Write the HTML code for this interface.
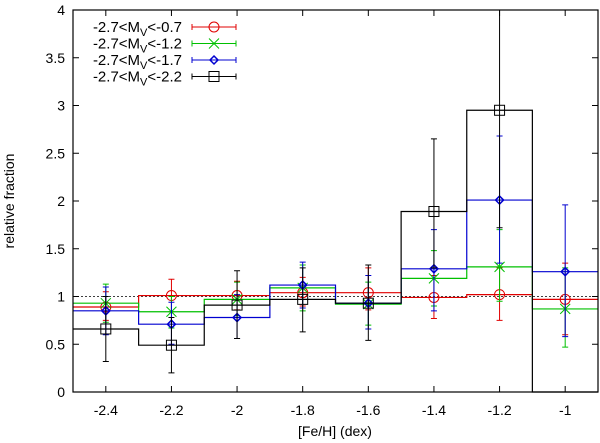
<!DOCTYPE html>
<html><head><meta charset="utf-8"><style>
body{margin:0;background:#fff}
svg{display:block;font-family:"Liberation Sans",sans-serif}
</style></head><body>
<svg id="c" width="600" height="443"></svg>
<script>
const xs=[-2.4,-2.2,-2.0,-1.8,-1.6,-1.4,-1.2,-1.0];
const redV=[0.89,1.01,1.01,1.04,1.04,0.99,1.02,0.97];
const redLo=[0.75,0.84,0.86,0.9,0.86,0.77,0.75,0.6];
const redHi=[1.05,1.18,1.16,1.2,1.3,1.22,1.3,1.35];
const greenV=[0.93,0.84,0.97,1.09,0.92,1.19,1.31,0.87];
const greenLo=[0.73,0.67,0.8,0.85,0.7,0.9,0.95,0.47];
const greenHi=[1.13,1.0,1.15,1.33,1.15,1.48,1.7,1.3];
const blueV=[0.85,0.71,0.78,1.12,0.93,1.29,2.01,1.26];
const blueLo=[0.6,0.5,0.56,0.88,0.66,0.85,1.35,0.58];
const blueHi=[1.1,0.94,1.02,1.36,1.22,1.7,2.68,1.96];
const blackV=[0.66,0.49,0.91,0.97,0.93,1.89,2.95,0];
const blackLo=[0.32,0.2,0.56,0.63,0.54,1.3,1.72,0];
const blackHi=[1.0,0.78,1.27,1.3,1.33,2.65,4.0,0];
const xTicks=[-2.4,-2.2,-2,-1.8,-1.6,-1.4,-1.2,-1];
const yTicks=[0,0.5,1,1.5,2,2.5,3,3.5,4];
const L=73,R=598,T=10,B=392;
const X=v=>L+(v+2.5)/1.6*(R-L);
const Y=v=>B-v/4*(B-T);
const svg=document.getElementById('c');const NS='http://www.w3.org/2000/svg';
function el(t,a,p){const e=document.createElementNS(NS,t);for(const k in a)e.setAttribute(k,a[k]);(p||svg).appendChild(e);return e;}
yTicks.forEach(v=>{
 const g=el('g',{});
 
 
 el('line',{x1:L,x2:L+6,y1:Y(v),y2:Y(v),stroke:'#000'},g);
 el('line',{x1:R,x2:R-6,y1:Y(v),y2:Y(v),stroke:'#000'},g);
 const t=el('text',{x:L-8,y:Y(v)+5,'text-anchor':'end','font-size':14},g);t.textContent=v;
});
xTicks.forEach(v=>{
 const g=el('g',{});
 
 
 el('line',{x1:X(v),x2:X(v),y1:B,y2:B-6,stroke:'#000'},g);
 el('line',{x1:X(v),x2:X(v),y1:T,y2:T+6,stroke:'#000'},g);
 const t=el('text',{x:X(v),y:B+23,'text-anchor':'middle','font-size':14},g);t.textContent=v;
});
const ref=el('line',{x1:L,x2:R,y1:Y(1),y2:Y(1),stroke:'#000','stroke-dasharray':'2,2','stroke-width':0.8});


const series=[
 {n:'red',c:'#e00000',v:redV,lo:redLo,hi:redHi,m:'circle'},
 {n:'green',c:'#00c000',v:greenV,lo:greenLo,hi:greenHi,m:'x'},
 {n:'blue',c:'#0000d0',v:blueV,lo:blueLo,hi:blueHi,m:'diamond'},
 {n:'black',c:'#000',v:blackV,lo:blackLo,hi:blackHi,m:'square'}];
function marker(m,x,y,c,g){
 if(m=='circle')el('circle',{cx:x,cy:y,r:5,fill:'none',stroke:c},g);
 else if(m=='x'){el('path',{d:`M${x-5} ${y-5}L${x+5} ${y+5}M${x-5} ${y+5}L${x+5} ${y-5}`,stroke:c},g);}
 else if(m=='diamond')el('path',{d:`M${x} ${y-4}L${x+4} ${y}L${x} ${y+4}L${x-4} ${y}Z`,fill:'none',stroke:c,'stroke-width':1.5},g);
 else el('rect',{x:x-5,y:y-5,width:10,height:10,fill:'none',stroke:c},g);
}
series.forEach(s=>{
 const g=el('g',{});
 
 
 let d='';
 xs.forEach((x,i)=>{const x0=X(x-0.1),x1=X(x+0.1),y=Y(s.v[i]);d+=(i?'L':'M')+x0+' '+y+'L'+x1+' '+y;});
 el('path',{d,fill:'none',stroke:s.c,'stroke-width':1.2},g);
 xs.forEach((x,i)=>{
  if(s.hi[i]===0&&s.v[i]===0)return;
  const cx=X(x),a=Y(Math.min(s.hi[i],4)),b=Y(s.lo[i]);
  el('path',{d:`M${cx} ${a}L${cx} ${b}M${cx-3} ${a}L${cx+3} ${a}M${cx-3} ${b}L${cx+3} ${b}`,stroke:s.c},g);
  marker(s.m,cx,Y(s.v[i]),s.c,g);
 });
});
el('rect',{x:L,y:T,width:R-L,height:B-T,fill:'none',stroke:'#000','stroke-width':1.2});
const labs=['-0.7','-1.2','-1.7','-2.2'];
series.forEach((s,i)=>{
 const g=el('g',{});
 
 
 const y=27+i*16.5;
 const t=el('text',{x:182,y:y+5,'text-anchor':'end','font-size':15},g);
 t.innerHTML='-2.7&lt;M<tspan font-size="11" dy="4">V</tspan><tspan dy="-4">&lt;'+labs[i]+'</tspan>';
 el('path',{d:`M192 ${y}L236 ${y}M192 ${y-3}L192 ${y+3}M236 ${y-3}L236 ${y+3}`,stroke:s.c},g);
 marker(s.m,214,y,s.c,g);
});
const xl=el('text',{x:335,y:436,'text-anchor':'middle','font-size':14});xl.textContent='[Fe/H] (dex)';

const yl=el('text',{x:14,y:201,'text-anchor':'middle','font-size':14,transform:'rotate(-90 14 201)'});yl.textContent='relative fraction';

</script>
</body></html>
